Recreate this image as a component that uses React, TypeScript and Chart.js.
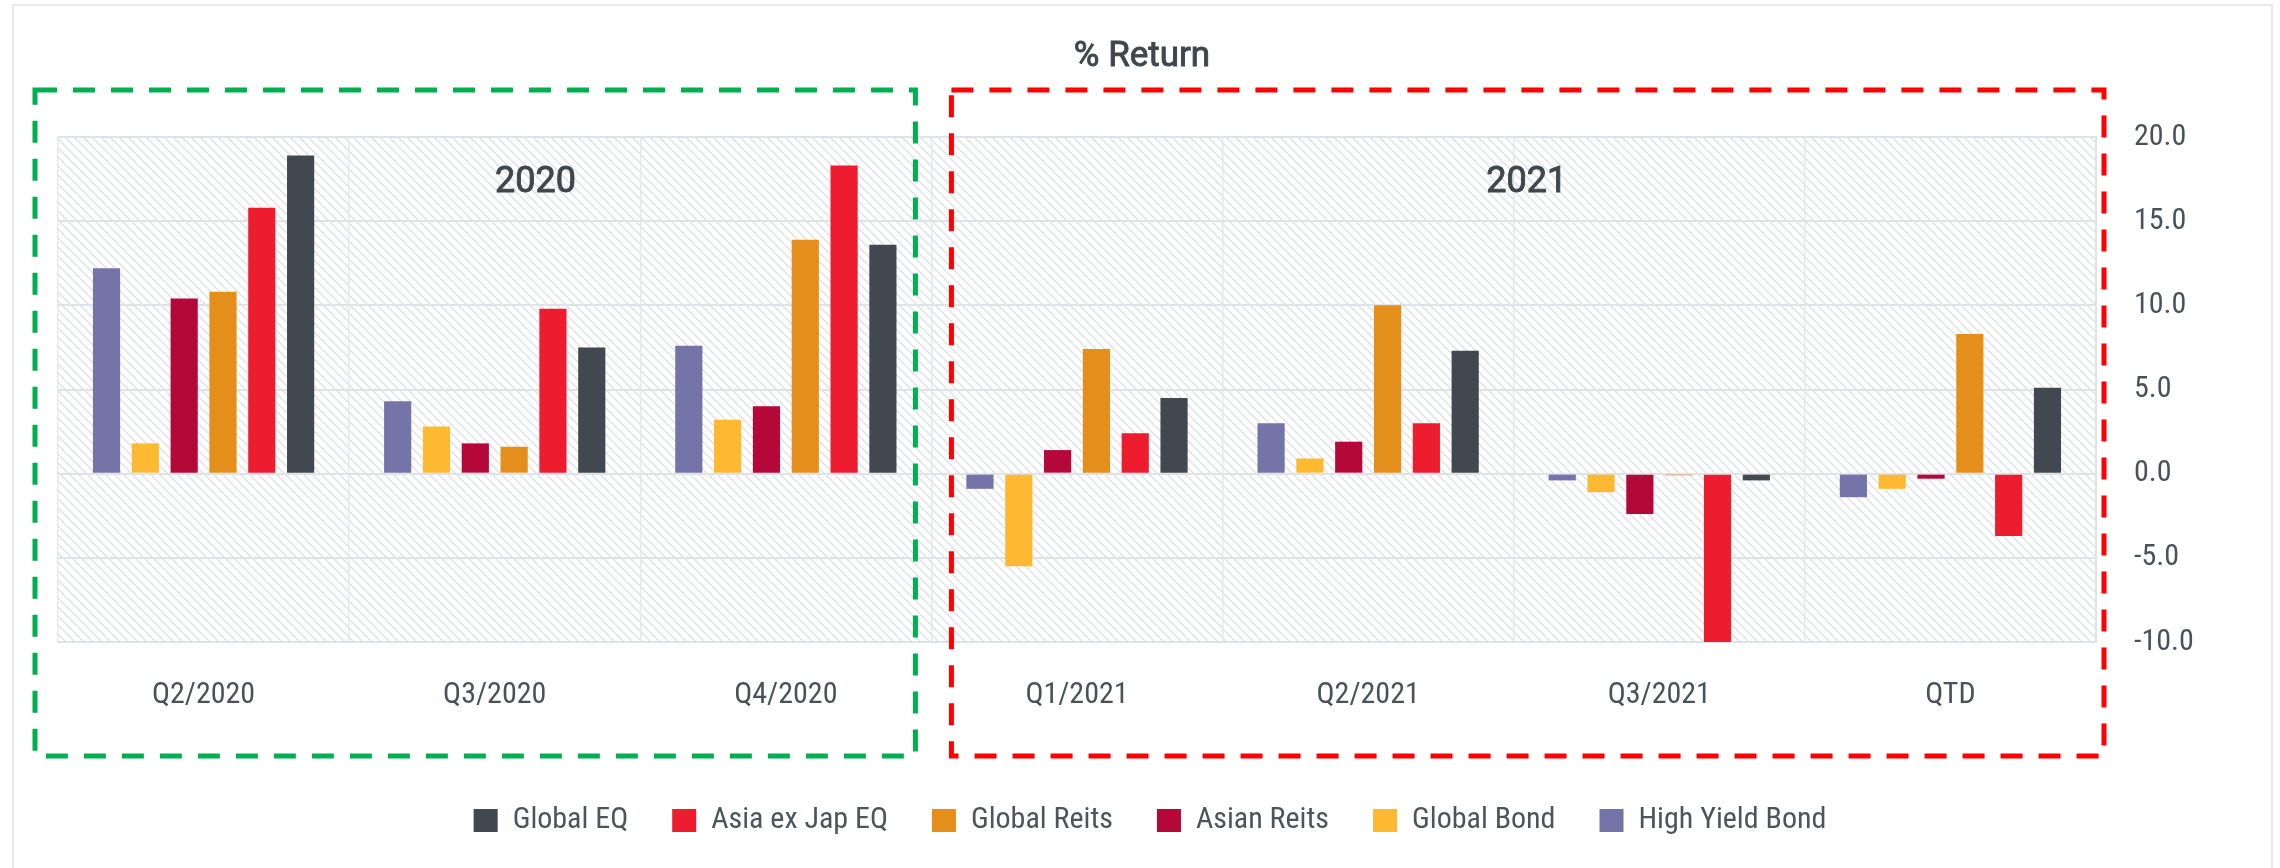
import React, { useEffect, useRef } from 'react';
import { Chart, registerables } from 'chart.js';

Chart.register(...registerables);

const categories = ['Q2/2020', 'Q3/2020', 'Q4/2020', 'Q1/2021', 'Q2/2021', 'Q3/2021', 'QTD'];

const highYieldBond = [12.2, 4.3, 7.6, -0.9, 3.0, -0.4, -1.4];
const globalBond = [1.8, 2.8, 3.2, -5.5, 0.9, -1.1, -0.9];
const asianReits = [10.4, 1.8, 4.0, 1.4, 1.9, -2.4, -0.3];
const globalReits = [10.8, 1.6, 13.9, 7.4, 10.0, -0.1, 8.3];
const asiaExJapEQ = [15.8, 9.8, 18.3, 2.4, 3.0, -10.0, -3.7];
const globalEQ = [18.9, 7.5, 13.6, 4.5, 7.3, -0.4, 5.1];

const seriesNames = ['High Yield Bond', 'Global Bond', 'Asian Reits', 'Global Reits', 'Asia ex Jap EQ', 'Global EQ'];
const seriesValues = [highYieldBond, globalBond, asianReits, globalReits, asiaExJapEQ, globalEQ];
const seriesColors = ['#7574a9', '#fdb931', '#b30838', '#e48e1c', '#ed1c2f', '#41484f'];

const yMin = -10;
const yMax = 20;
const yStep = 5;

const chartTitle = '% Return';
const yearLabels = ['2020', '2021'];

const NARROW = "'Liberation Sans Narrow', 'Arial Narrow', 'Roboto Condensed', sans-serif";
const TITLE_FONT = "Roboto, 'Liberation Sans', sans-serif";

export default function App() {
  const ref = useRef<HTMLCanvasElement>(null);

  useEffect(() => {
    const canvas = ref.current;
    if (!canvas) return;

    const s = 9;
    const tile = document.createElement('canvas');
    tile.width = s;
    tile.height = s;
    const tctx = tile.getContext('2d')!;
    tctx.fillStyle = '#ffffff';
    tctx.fillRect(0, 0, s, s);
    tctx.strokeStyle = '#dcdfe3';
    tctx.lineWidth = 1.3;
    tctx.beginPath();
    tctx.moveTo(0, 0);
    tctx.lineTo(s, s);
    tctx.moveTo(-1, s - 1);
    tctx.lineTo(1, s + 1);
    tctx.moveTo(s - 1, -1);
    tctx.lineTo(s + 1, 1);
    tctx.stroke();

    const mediumText = (ctx: CanvasRenderingContext2D, text: string, x: number, y: number) => {
      ctx.fillText(text, x, y);
      ctx.strokeText(text, x, y);
    };

    const decor = {
      id: 'decor',
      beforeDraw(chart: any) {
        const { ctx, chartArea } = chart;
        const pat = ctx.createPattern(tile, 'repeat');
        ctx.save();
        ctx.fillStyle = pat;
        ctx.fillRect(chartArea.left, chartArea.top, chartArea.right - chartArea.left, chartArea.bottom - chartArea.top);
        ctx.restore();
      },
      afterDraw(chart: any) {
        const { ctx, chartArea } = chart;
        const { left, right, top, bottom } = chartArea;
        const catW = (right - left) / categories.length;
        const y1 = top - 47;
        const y2 = bottom + 114;
        ctx.save();
        ctx.lineWidth = 5;
        ctx.setLineDash([22, 16]);
        ctx.strokeStyle = '#00b050';
        ctx.strokeRect(left - 23, y1, 3 * catW - 16 + 23, y2 - y1);
        ctx.strokeStyle = '#ff0000';
        const rx = left + 3 * catW + 20;
        ctx.strokeRect(rx, y1, right + 8 - rx, y2 - y1);
        ctx.setLineDash([]);

        ctx.fillStyle = '#3f464d';
        ctx.strokeStyle = '#3f464d';
        ctx.lineWidth = 0.9;
        ctx.textAlign = 'center';
        ctx.textBaseline = 'middle';
        ctx.font = `normal 35px ${TITLE_FONT}`;
        mediumText(ctx, chartTitle, chart.width / 2 + 2, 57);
        ctx.font = `normal 36px ${TITLE_FONT}`;
        mediumText(ctx, yearLabels[0], left + 1.64 * catW, top + 46);
        mediumText(ctx, yearLabels[1], left + 5.045 * catW, top + 46);
        ctx.restore();
      },
    };

    const chart = new Chart(canvas, {
      type: 'bar',
      data: {
        labels: categories,
        datasets: seriesNames.map((name, i) => ({
          label: name,
          data: seriesValues[i],
          backgroundColor: seriesColors[i],
          borderWidth: 0,
          categoryPercentage: 0.8,
          barPercentage: 0.7,
          yAxisID: 'y',
        })),
      },
      options: {
        responsive: false,
        animation: false,
        devicePixelRatio: 1,
        layout: { padding: { left: 20, right: 0, top: 137, bottom: 22.5 } },
        plugins: {
          title: { display: false },
          legend: {
            position: 'bottom',
            reverse: true,
            labels: {
              boxWidth: 24,
              boxHeight: 23,
              padding: 44,
              color: '#4d545b',
              font: { family: NARROW, size: 30 },
            },
          },
          tooltip: { enabled: false },
        },
        scales: {
          x: {
            grid: { color: '#e6e8eb', lineWidth: 1.5, drawTicks: false, offset: true },
            border: { display: true, color: '#dfe2e6', width: 2 },
            ticks: { padding: 35, color: '#4a5159', font: { family: NARROW, size: 30 } },
            afterFit: (sc: any) => { sc.height = 119.5; },
          },
          y: {
            position: 'right',
            min: yMin,
            max: yMax,
            grid: { color: '#dfe2e6', lineWidth: 2, drawTicks: false },
            border: { display: true, color: '#dfe2e6', width: 2 },
            ticks: {
              stepSize: yStep,
              padding: 38,
              color: '#4a5159',
              font: { family: NARROW, size: 30 },
              callback: (v: any) => Number(v).toFixed(1),
            },
            afterFit: (sc: any) => { sc.width = 184; },
          },
          yl: {
            type: 'linear',
            position: 'left',
            display: true,
            grid: { display: false, drawTicks: false },
            border: { display: false },
            ticks: { display: false },
            afterFit: (sc: any) => { sc.width = 38; },
          },
        },
      },
      plugins: [decor],
    } as any);

    return () => chart.destroy();
  }, []);

  return (
    <div style={{ position: 'absolute', left: 0, top: 0, width: 2280, height: 868, overflow: 'hidden', background: '#ffffff' }}>
      <div style={{ position: 'absolute', left: 12, top: 4, width: 2261, height: 900, border: '2px solid #e6e8eb', boxSizing: 'border-box' }} />
      <canvas ref={ref} width={2280} height={868} style={{ position: 'absolute', left: 0, top: 0, width: 2280, height: 868 }} />
    </div>
  );
}
